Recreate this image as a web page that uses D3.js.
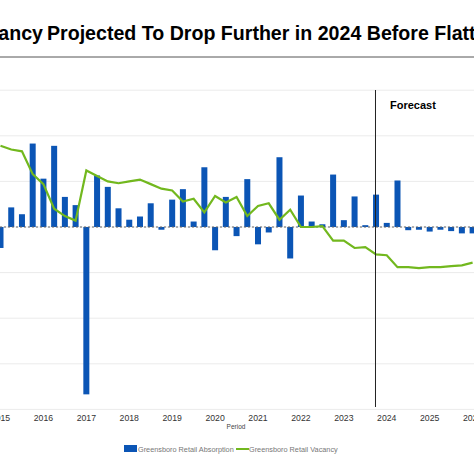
<!DOCTYPE html><html><head><meta charset="utf-8">
<script src="https://cdn.jsdelivr.net/npm/d3@7"></script>
<style>body{margin:0;background:#fff}text{font-family:"Liberation Sans",Arial,sans-serif}</style></head><body>
<svg id="c" width="474" height="474"></svg>
<script>
const years=["2015","2016","2017","2018","2019","2020","2021","2022","2023","2024","2025","2026"];
// quarterly absorption (hundred thousand SF, est.), 2015Q1 .. 2026Q1
const absorption=[-0.46,0.43,0.28,1.83,1.06,1.78,0.66,0.48,-3.67,1.13,0.88,0.41,0.16,0.23,0.52,-0.06,0.6,0.83,0.12,1.31,-0.51,0.66,-0.2,1.05,-0.38,-0.12,1.53,-0.69,0.69,0.12,0.06,1.15,0.15,0.67,0.04,0.71,0.09,1.02,-0.07,-0.06,-0.1,-0.06,-0.09,-0.14,-0.14];
// quarterly vacancy (%, est.)
const vacancy=[6.89,6.85,6.83,6.58,6.47,6.20,6.12,6.07,6.62,6.56,6.50,6.48,6.50,6.52,6.47,6.42,6.40,6.28,6.31,6.16,6.34,6.27,6.33,6.12,6.23,6.26,6.08,6.19,6.00,6.00,6.01,5.85,5.85,5.77,5.78,5.70,5.69,5.56,5.56,5.55,5.56,5.56,5.57,5.58,5.61];
const forecastStart=35;
const svg=d3.select("#c");
const x=d3.scaleLinear().domain([0,44]).range([0.5,472.6]);
const y=d3.scaleLinear().domain([-4,3]).range([409.4,90.2]);
const yv=d3.scaleLinear().domain([4,7.5]).range([409.4,90.2]);
// title
svg.append("text").attr("x",43).attr("y",40).attr("text-anchor","end").attr("font-size",19.6).attr("font-weight","bold").text("Retail Vacancy");
svg.append("text").attr("x",47).attr("y",40).attr("font-size",19.6).attr("font-weight","bold").text("Projected To Drop Further in 2024 Before Flattening");
svg.append("line").attr("x1",0).attr("x2",474).attr("y1",57).attr("y2",57).attr("stroke","#555").attr("stroke-width",1);
// grid
const g=svg.append("g");
g.selectAll("line.grid").data(d3.range(-4,4)).join("line").attr("x1",0).attr("x2",474)
 .attr("y1",d=>y(d)).attr("y2",d=>y(d)).attr("stroke","#ebebeb").attr("stroke-width",1);
// bars
g.selectAll("rect.bar").data(absorption).join("rect").attr("fill","#0b55b5")
 .attr("x",(d,i)=>x(i)-3).attr("width",6)
 .attr("y",d=>y(Math.max(0,d))).attr("height",d=>Math.abs(y(d)-y(0)));
// zero line
g.append("line").attr("x1",0).attr("x2",474).attr("y1",y(0)).attr("y2",y(0)).attr("stroke","#666").attr("stroke-dasharray","2,2").attr("stroke-width",1);
// vacancy line
g.append("path").datum(vacancy).attr("fill","none").attr("stroke","#72b81e").attr("stroke-width",2.2)
 .attr("d",d3.line().x((d,i)=>x(i)).y(d=>yv(d)));
// forecast
g.append("line").attr("x1",x(forecastStart-0.05)).attr("x2",x(forecastStart-0.05)).attr("y1",90).attr("y2",407).attr("stroke","#222").attr("stroke-width",1);
g.append("text").attr("x",x(forecastStart)+14).attr("y",109).attr("font-size",11).attr("font-weight","bold").text("Forecast");
// x axis labels
g.selectAll("text.yr").data(years).join("text").attr("x",(d,i)=>x(i*4)).attr("y",421).attr("text-anchor","middle").attr("font-size",8.7).attr("fill","#333").text(d=>d);
g.append("text").attr("x",236).attr("y",429).attr("text-anchor","middle").attr("font-size",6.5).attr("fill","#444").text("Period");
// legend
svg.append("rect").attr("x",124).attr("y",445).attr("width",13).attr("height",7).attr("fill","#0b55b5");
svg.append("text").attr("x",138).attr("y",452).attr("font-size",7.3).attr("fill","#777").text("Greensboro Retail Absorption");
svg.append("line").attr("x1",236).attr("x2",249).attr("y1",449).attr("y2",449).attr("stroke","#72b81e").attr("stroke-width",2);
svg.append("text").attr("x",249).attr("y",452).attr("font-size",7.3).attr("fill","#777").text("Greensboro Retail Vacancy");
</script></body></html>
